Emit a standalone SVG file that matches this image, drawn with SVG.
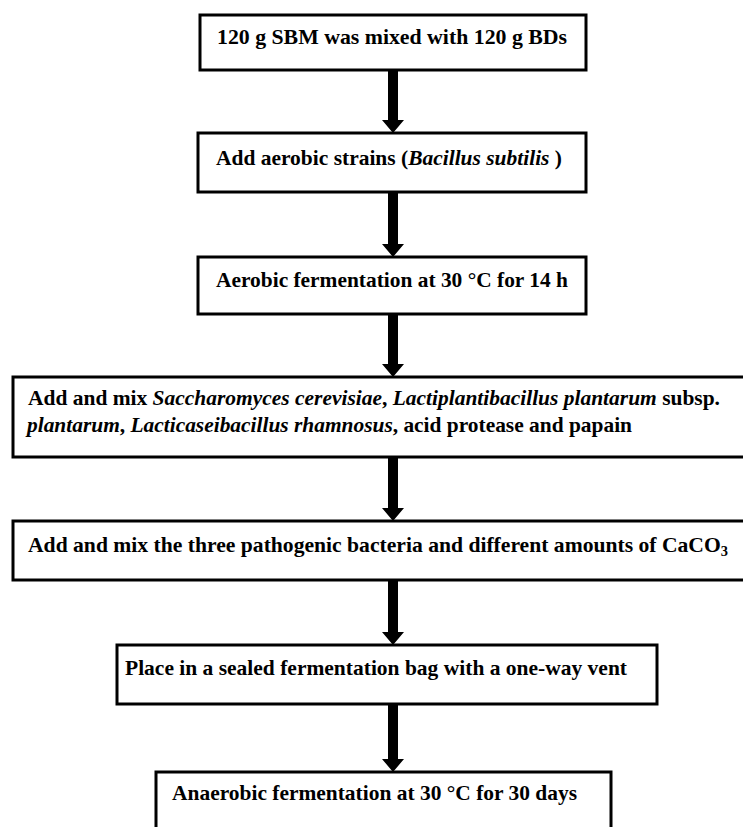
<svg xmlns="http://www.w3.org/2000/svg" width="743" height="827" viewBox="0 0 743 827">
<style>
.box{fill:#fff;stroke:#000;stroke-width:3}
.t{font-family:"Liberation Serif","Times New Roman",serif;font-weight:bold;font-size:21px;fill:#000}
.i{font-style:italic}
.arr{fill:#000}
</style>
<rect width="743" height="827" fill="#fff"/>
<g id="connectors">
<polygon class="arr" points="388,70 398,70 398,120 404,120 393,133 382,120 388,120"/>
<polygon class="arr" points="388,192 398,192 398,244 404,244 393,257 382,244 388,244"/>
<polygon class="arr" points="388,314 398,314 398,364 404,364 393,377 382,364 388,364"/>
<polygon class="arr" points="388,457 398,457 398,508 404,508 393,521 382,508 388,508"/>
<polygon class="arr" points="388,580 398,580 398,632 404,632 393,645 382,632 388,632"/>
<polygon class="arr" points="388,704 398,704 398,759 404,759 393,772 382,759 388,759"/>
</g>
<g id="n1">
<rect class="box" x="200" y="15" width="386" height="55"/>
<text class="t" x="217" y="44" textLength="350" lengthAdjust="spacingAndGlyphs">120 g SBM was mixed with 120 g BDs</text>
</g>
<g id="n2">
<rect class="box" x="198" y="133" width="388" height="59"/>
<text class="t" x="216" y="165" textLength="346" lengthAdjust="spacingAndGlyphs">Add aerobic strains (<tspan class="i">Bacillus subtilis</tspan> )</text>
</g>
<g id="n3">
<rect class="box" x="198" y="257" width="388" height="57"/>
<text class="t" x="216" y="287" textLength="352" lengthAdjust="spacingAndGlyphs">Aerobic fermentation at 30 °C for 14 h</text>
</g>
<g id="n4">
<rect class="box" x="13" y="377" width="740" height="80"/>
<text class="t" x="28" y="405" textLength="692" lengthAdjust="spacingAndGlyphs">Add and mix <tspan class="i">Saccharomyces cerevisiae</tspan>, <tspan class="i">Lactiplantibacillus plantarum</tspan> subsp.</text>
<text class="t" x="27" y="432" textLength="605" lengthAdjust="spacingAndGlyphs"><tspan class="i">plantarum</tspan>, <tspan class="i">Lacticaseibacillus rhamnosus</tspan>, acid protease and papain</text>
</g>
<g id="n5">
<rect class="box" x="13" y="521" width="740" height="59"/>
<text class="t" x="28" y="552" textLength="700" lengthAdjust="spacingAndGlyphs">Add and mix the three pathogenic bacteria and different amounts of CaCO<tspan font-size="14" dy="4">3</tspan></text>
</g>
<g id="n6">
<rect class="box" x="117" y="645" width="540" height="59"/>
<text class="t" x="125" y="675" textLength="502" lengthAdjust="spacingAndGlyphs">Place in a sealed fermentation bag with a one-way vent</text>
</g>
<g id="n7">
<rect class="box" x="156" y="772" width="455" height="70"/>
<text class="t" x="172" y="800" textLength="405" lengthAdjust="spacingAndGlyphs">Anaerobic fermentation at 30 °C for 30 days</text>
</g>
</svg>
